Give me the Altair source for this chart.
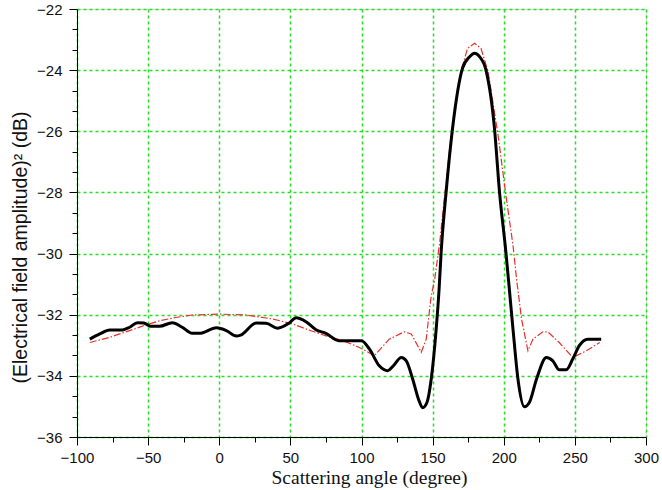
import altair as alt
import pandas as pd

# Measured (black, thick) curve
meas_x = [-91, -84, -77, -69, -63, -57.5, -53, -48, -42, -33, -26, -19, -14, -2, 5, 12, 15, 26, 33, 41, 49, 54, 61, 68, 75, 84, 94, 100,
          105.5, 112.5, 118.5, 122, 128, 131.5, 136, 140.5, 143, 146, 149, 152.5, 154.5, 156, 159.5, 164, 171, 176, 179.5,
          183, 187.5, 193.5, 197, 201.5, 204, 206.5, 210, 214.5, 218, 223, 230, 234.5, 239, 244, 248.5, 253, 259, 268.5]
meas_y = [-32.80, -32.63, -32.50, -32.50, -32.41, -32.26, -32.27, -32.38, -32.38, -32.26, -32.41, -32.61, -32.61, -32.43, -32.52, -32.70,
          -32.67, -32.27, -32.28, -32.44, -32.28, -32.10, -32.23, -32.49, -32.61, -32.85, -32.85, -32.85,
          -33.12, -33.67, -33.83, -33.69, -33.40, -33.51, -34.11, -34.82, -35.04, -34.87, -34.11, -32.47, -31.2, -29.95,
          -27.98, -25.91, -23.94, -23.56, -23.45, -23.56, -24.00, -25.91, -27.98, -29.95, -31.2, -32.47, -34.11, -35.01,
          -34.87, -34.11, -33.40, -33.51, -33.80, -33.80, -33.45, -33.02, -32.80, -32.80]

# Simulated (red, dash-dot) curve
sim_x = [-91, -77, -63, -52, -42, -30.5, -19, 0, 19, 37.5, 51.5, 63, 75, 87, 98.5, 109, 119.5, 130, 135, 142, 145.5, 149, 151.5,
         155, 163, 170, 174.5, 179.5, 184, 189, 196, 201.5, 206.5, 209, 212.5, 217, 220.5, 227.5, 231, 239, 248.5, 258, 267.5]
sim_y = [-32.91, -32.74, -32.52, -32.34, -32.20, -32.09, -32.01, -31.98, -32.01, -32.14, -32.30, -32.50, -32.69, -32.85, -33.07,
         -33.34, -32.80, -32.56, -32.63, -33.23, -32.80, -31.38, -30.83, -29.63, -26.13, -24.05, -23.29, -23.12, -23.29, -24.05,
         -26.13, -28.09, -29.73, -30.83, -32.14, -33.18, -32.80, -32.56, -32.56, -32.91, -33.40, -33.18, -32.91]

x_ticks = [-100 + 25 * i for i in range(17)]
y_ticks = [round(-36 + 2 * i / 3, 4) for i in range(22)]

meas = pd.DataFrame({"angle": meas_x, "db": meas_y, "order": range(len(meas_x))})
sim = pd.DataFrame({"angle": sim_x, "db": sim_y, "order": range(len(sim_x))})

grid_green = "#22e022"

minor_x = "abs(datum.value % 50) > 0.01"
minor_y = "(abs(datum.value % 2) > 0.01 && abs(datum.value % 2) < 1.99)"

x_enc = alt.X(
    "angle:Q",
    scale=alt.Scale(domain=[-100, 300], nice=False, zero=False),
    axis=alt.Axis(
        values=x_ticks,
        tickCount=100,
        title="Scattering angle (degree)",
        titleFont="Liberation Serif",
        titleFontSize=19.5,
        titleFontWeight="normal",
        titleColor="#111",
        titleX=292,
        titleY=46,
        titleAlign="center",
        titleBaseline="alphabetic",
        labelFont="Liberation Sans",
        labelFontSize=15,
        labelColor="#111",
        labelPadding=5,
        labelExpr=minor_x + " ? '' : format(datum.value, 'd')",
        labelOverlap=False,
        labelFlush=False,
        domainColor="#000",
        tickColor="#000",
        tickSize={"condition": {"test": minor_x, "value": 5}, "value": 8},
        grid=True,
        gridColor=grid_green,
        gridDash=[3, 3],
        gridWidth=1.5,
        gridOpacity={"condition": {"test": minor_x, "value": 0}, "value": 1},
    ),
)

y_enc = alt.Y(
    "db:Q",
    scale=alt.Scale(domain=[-36, -22], nice=False, zero=False),
    axis=alt.Axis(
        values=y_ticks,
        tickCount=100,
        title="(Electrical field amplitude)² (dB)",
        titleFont="Liberation Sans",
        titleFontSize=19.5,
        titleFontWeight="normal",
        titleColor="#111",
        titleAngle=270,
        titleX=-57,
        titleY=238,
        titleAlign="center",
        titleBaseline="middle",
        labelFont="Liberation Sans",
        labelFontSize=15,
        labelColor="#111",
        labelPadding=7,
        labelExpr=minor_y + " ? '' : format(round(datum.value), 'd')",
        labelOverlap=False,
        labelFlush=False,
        domainColor="#000",
        tickColor="#000",
        tickSize={"condition": {"test": minor_y, "value": 5}, "value": 8},
        grid=True,
        gridColor=grid_green,
        gridDash=[3, 3],
        gridWidth=1.5,
        gridOpacity={"condition": {"test": minor_y, "value": 0}, "value": 1},
    ),
)

red = alt.Chart(sim).mark_line(color="#e8302a", strokeWidth=1.2, strokeDash=[7, 2, 1.5, 2]).encode(
    x=x_enc, y=y_enc, order="order:Q"
)
black = alt.Chart(meas).mark_line(color="#000", strokeWidth=3, interpolate="monotone").encode(
    x="angle:Q", y="db:Q", order="order:Q"
)

chart = (
    alt.layer(red, black)
    .properties(
        width=569,
        height=428,
        autosize="none",
        padding={"left": 77, "top": 9, "right": 16, "bottom": 53},
    )
    .configure_view(stroke="#555", strokeWidth=1.5)
    .configure(background="white")
)

chart.save("out.html", embed_options={"renderer": "svg", "actions": False})
